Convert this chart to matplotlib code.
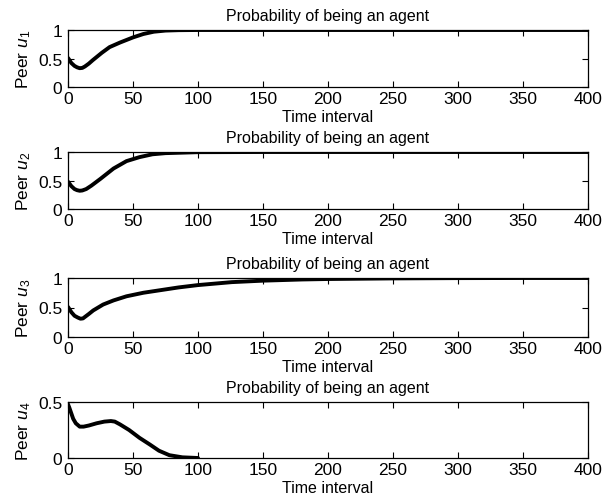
import numpy as np
import matplotlib
matplotlib.use("Agg")
import matplotlib.pyplot as plt

plt.rcParams['font.family'] = ['Liberation Sans', 'DejaVu Sans']
plt.rcParams['mathtext.fontset'] = 'custom'
plt.rcParams['mathtext.rm'] = 'Liberation Sans'
plt.rcParams['mathtext.it'] = 'Liberation Sans:italic'

# values (time interval, probability)
t1 = [0, 2.6, 5, 7, 9, 11, 13, 16, 19, 26, 32, 40, 50, 58, 66, 75, 85, 100, 150, 200, 250, 300, 350, 400]
p1 = [0.51, 0.42, 0.37, 0.345, 0.33, 0.335, 0.36, 0.41, 0.47, 0.60, 0.70, 0.78, 0.87, 0.93, 0.97, 0.99, 0.997, 1.0, 1.0, 1.0, 1.0, 1.0, 1.0, 1.0]

t2 = [0, 2.6, 5, 7, 9, 11, 14, 18, 25, 35, 45, 55, 65, 75, 90, 100, 150, 200, 250, 300, 350, 400]
p2 = [0.48, 0.40, 0.35, 0.33, 0.32, 0.325, 0.35, 0.41, 0.53, 0.71, 0.84, 0.91, 0.96, 0.98, 0.99, 0.997, 1.0, 1.0, 1.0, 1.0, 1.0, 1.0]

t3 = [0, 2.6, 5, 7.5, 9.6, 11.5, 13, 16, 19.4, 27, 35, 45, 58, 70, 85, 100, 126, 150, 180, 200, 250, 300, 350, 400]
p3 = [0.51, 0.42, 0.36, 0.33, 0.31, 0.315, 0.34, 0.39, 0.45, 0.55, 0.62, 0.69, 0.75, 0.79, 0.84, 0.88, 0.93, 0.955, 0.975, 0.983, 0.993, 0.998, 1.0, 1.0]

t4 = [0, 1, 2.5, 4, 6, 9, 12, 16, 22, 28, 33, 36, 40, 47, 55, 63, 70, 78, 88, 100]
p4 = [0.48, 0.45, 0.40, 0.35, 0.31, 0.28, 0.28, 0.29, 0.31, 0.325, 0.33, 0.325, 0.30, 0.25, 0.18, 0.12, 0.065, 0.025, 0.006, 0.0]

series = [(t1, p1), (t2, p2), (t3, p3), (t4, p4)]
ylims = [1, 1, 1, 0.5]
yticks = [[0, 0.5, 1], [0, 0.5, 1], [0, 0.5, 1], [0, 0.5]]
ytick_labels = [['0', '0.5', '1'], ['0', '0.5', '1'], ['0', '0.5', '1'], ['0', '0.5']]
xticks = [0, 50, 100, 150, 200, 250, 300, 350, 400]

fig = plt.figure(figsize=(6.15, 5.02), dpi=100)
W, H = 615, 502
tops = [31, 153, 279, 403]
bottoms = [88, 210, 338, 459]
left, right = 68, 588

for i, (t, p) in enumerate(series):
    ax = fig.add_axes([left / W, 1 - bottoms[i] / H, (right - left) / W, (bottoms[i] - tops[i]) / H])
    ax.plot(t, p, color='black', linewidth=2.8, solid_capstyle='round', solid_joinstyle='round')
    ax.set_xlim(0, 400)
    ax.set_ylim(0, ylims[i])
    ax.set_xticks(xticks)
    ax.set_xticklabels([str(x) for x in xticks])
    ax.set_yticks(yticks[i])
    ax.set_yticklabels(ytick_labels[i])
    ax.tick_params(direction='in', top=True, right=True, length=4, width=0.8,
                   labelsize=12.5, pad=3)
    ax.tick_params(axis='y', pad=4)
    for s in ax.spines.values():
        s.set_linewidth(0.9)
    ax.set_title('Probability of being an agent', fontsize=11.5, pad=7)
    ax.set_xlabel('Time interval', fontsize=11.5, labelpad=2)
    ax.set_ylabel('Peer $u_%d$' % (i + 1), fontsize=12.5, labelpad=4)

fig.savefig('out.png', dpi=100)
